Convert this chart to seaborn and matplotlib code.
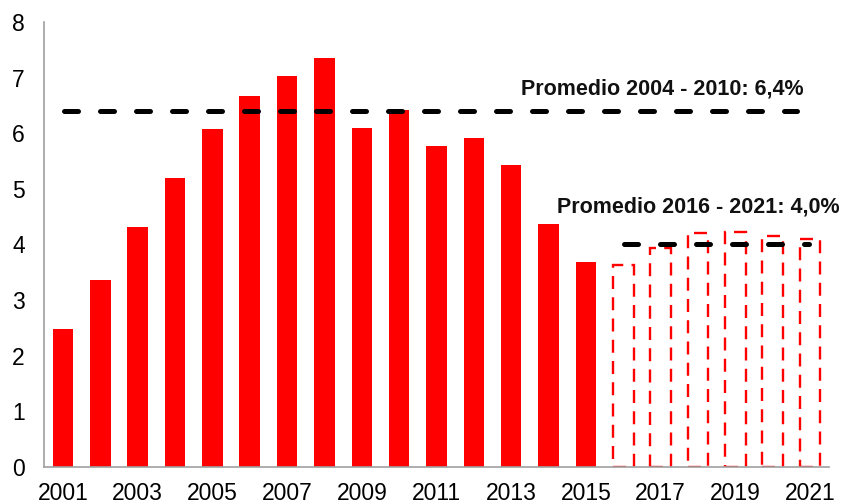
import pandas as pd
import matplotlib
matplotlib.use("Agg")
import matplotlib.pyplot as plt
import seaborn as sns

# ==========================================
# datos
# ==========================================
years = [str(y) for y in range(2001, 2022)]

observed_years = years[:15]
observed_vals = [2.48, 3.35, 4.32, 5.20, 6.07, 6.67, 7.02, 7.36, 6.10, 6.42,
                 5.77, 5.91, 5.43, 4.37, 3.68]

projected_years = years[15:]
projected_vals = [3.63, 3.94, 4.21, 4.22, 4.15, 4.10]

avg_values = [6.4, 4.0]
avg_labels = ["Promedio 2004 - 2010: 6,4%", "Promedio 2016 - 2021: 4,0%"]

RED = "#FF0000"
AXIS_GREY = "#A0A0A0"

sns.set_theme(style="white")
plt.rcParams['font.family'] = ['Liberation Sans', 'DejaVu Sans']

df_obs = pd.DataFrame({"year": observed_years, "value": observed_vals})
df_proj = pd.DataFrame({"year": projected_years, "value": projected_vals})

fig = plt.figure(figsize=(8.41, 5.04), dpi=100)
ax = fig.add_axes([0.0527, 0.074, 0.9327, 0.8823])

# barras observadas
sns.barplot(data=df_obs, x="year", y="value", order=years, color=RED,
            saturation=1, width=0.55, ax=ax)
n_obs = len(ax.patches)
for p in ax.patches:
    p.set_edgecolor("none")
    p.set_linewidth(0)

# barras proyectadas (contorno discontinuo)
sns.barplot(data=df_proj, x="year", y="value", order=years, color=RED,
            saturation=1, width=0.55, ax=ax)
for p in ax.patches[n_obs:]:
    p.set_facecolor("white")
    p.set_edgecolor(RED)
    p.set_linewidth(1.7)
    p.set_linestyle((0, (5.5, 3.5)))

# promedios
ax.plot([0.03, 19.65], [avg_values[0]] * 2, color="black", lw=3.6,
        dashes=(2.8, 4.4), dash_capstyle="round", zorder=5)
ax.plot([15.02, 19.97], [avg_values[1]] * 2, color="black", lw=3.6,
        dashes=(2.8, 4.4), dash_capstyle="round", zorder=5)
ax.text(16.04, 6.70, avg_labels[0], ha="center", va="baseline",
        fontsize=15.5, fontweight="bold", color="#111111")
ax.text(17.0, 4.58, avg_labels[1], ha="center", va="baseline",
        fontsize=15.5, fontweight="bold", color="#111111")

# ejes
ax.set_xlim(-0.5, 20.5)
ax.set_ylim(0, 8)
ax.set_xticks(range(0, 21, 2))
ax.set_xticklabels(years[::2])
ax.set_xticks([i + 0.5 for i in range(1, 20, 2)], minor=True)
ax.set_yticks(range(0, 9))
ax.tick_params(axis="x", which="major", length=0, pad=11, labelsize=16.5,
               colors="black")
ax.tick_params(axis="x", which="minor", length=5, width=1.2,
               color=AXIS_GREY, direction="out")
ax.tick_params(axis="y", length=7, width=1.2, color=AXIS_GREY,
               direction="out", pad=7, labelsize=16.5, labelcolor="black")
ax.set_xlabel("")
ax.set_ylabel("")

for side in ["top", "right"]:
    ax.spines[side].set_visible(False)
for side in ["left", "bottom"]:
    ax.spines[side].set_color(AXIS_GREY)
    ax.spines[side].set_linewidth(1.2)

plt.savefig("out.png", dpi=100)
plt.close()
